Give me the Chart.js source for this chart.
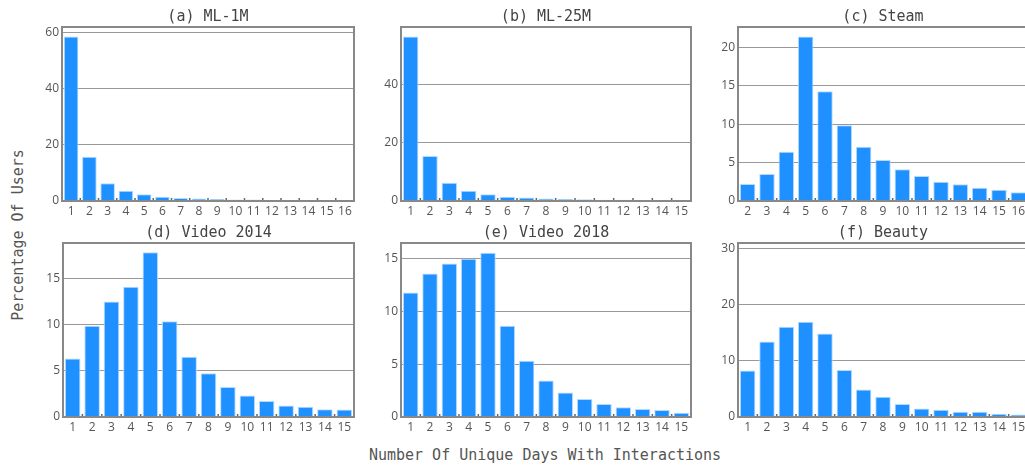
<!DOCTYPE html>
<html>
<head>
<meta charset="utf-8">
<script src="https://cdn.jsdelivr.net/npm/chart.js@4"></script>
<style>
  html, body { margin: 0; padding: 0; background: #fff; }
  body { width: 1025px; height: 466px; position: relative; overflow: hidden; }
  .panel { position: absolute; }
  #yTitle {
    position: absolute; left: 18px; top: 235px;
    transform: translate(-50%, -50%) rotate(-90deg);
    font: 15px "DejaVu Sans Mono", monospace; color: #555; white-space: nowrap;
  }
  #xTitle {
    position: absolute; left: 545px; top: 455px;
    transform: translate(-50%, -50%);
    font: 15px "DejaVu Sans Mono", monospace; color: #555; white-space: nowrap;
  }
</style>
</head>
<body>
<div id="yTitle">Percentage Of Users</div>
<div id="xTitle">Number Of Unique Days With Interactions</div>
<script>
// Category labels (days)
const days1to16 = ["1","2","3","4","5","6","7","8","9","10","11","12","13","14","15","16"];
const days1to15 = ["1","2","3","4","5","6","7","8","9","10","11","12","13","14","15"];
const days2to16 = ["2","3","4","5","6","7","8","9","10","11","12","13","14","15","16"];

// Percentage of users per number of unique days
const ml1m      = [58.7, 15.8, 6.3, 3.7, 2.4, 1.5, 1.1, 0.9, 0.7, 0.5, 0.5, 0.4, 0.4, 0.3, 0.3, 0.4];
const ml25m     = [56.4, 15.4, 6.3, 3.5, 2.3, 1.5, 1.2, 0.9, 0.7, 0.6, 0.4, 0.4, 0.3, 0.3, 0.3];
const steam     = [2.2, 3.5, 6.4, 21.4, 14.3, 9.85, 7.07, 5.34, 4.12, 3.26, 2.52, 2.17, 1.74, 1.48, 1.13];
const video2014 = [6.33, 9.87, 12.47, 14.07, 17.8, 10.35, 6.5, 4.74, 3.25, 2.32, 1.74, 1.23, 1.12, 0.83, 0.8];
const video2018 = [11.78, 13.58, 14.53, 14.98, 15.55, 8.64, 5.32, 3.46, 2.32, 1.71, 1.23, 0.92, 0.76, 0.66, 0.4];
const beauty    = [8.3, 13.5, 16.1, 17.0, 14.9, 8.4, 4.9, 3.6, 2.3, 1.5, 1.3, 0.95, 0.95, 0.6, 0.45];

// Panel titles, y axis ranges and tick values
const titles = ["(a) ML-1M", "(b) ML-25M", "(c) Steam", "(d) Video 2014", "(e) Video 2018", "(f) Beauty"];
const yMax   = [62.1, 59.7, 22.65, 18.8, 16.47, 31.07];
const yTicksA = [0, 20, 40, 60];
const yTicksB = [0, 20, 40];
const yTicksC = [0, 5, 10, 15, 20];
const yTicksD = [0, 5, 10, 15];
const yTicksE = [0, 5, 10, 15];
const yTicksF = [0, 10, 20, 30];
const yTicks = [yTicksA, yTicksB, yTicksC, yTicksD, yTicksE, yTicksF];

const panels = [
    { labels: days1to16, values: ml1m,      x: 62,  y: 27,  w: 292, h: 174 },
    { labels: days1to15, values: ml25m,     x: 401, y: 27,  w: 290, h: 174 },
    { labels: days2to16, values: steam,     x: 738, y: 27,  w: 290, h: 174 },
    { labels: days1to15, values: video2014, x: 63,  y: 243, w: 291, h: 174 },
    { labels: days1to15, values: video2018, x: 401, y: 243, w: 290, h: 174 },
    { labels: days1to15, values: beauty,    x: 738, y: 243, w: 290, h: 174 }
];

const Y_AXIS_W = 40;
const X_AXIS_H = 22;
const TOP_PAD = 24;
const RIGHT_PAD = 3;

// frame, bottom tick marks and centred title
const framePlugin = {
    id: "frame",
    afterDraw(chart, args, opts) {
        const { ctx, chartArea: a } = chart;
        const xs = chart.scales.x;
        ctx.save();
        ctx.strokeStyle = "#666";
        ctx.lineWidth = 1.5;
        const n = chart.data.labels.length;
        for (let i = 1; i < n; i++) {
            const px = (xs.getPixelForValue(i - 1) + xs.getPixelForValue(i)) / 2;
            ctx.beginPath();
            ctx.moveTo(px, a.bottom);
            ctx.lineTo(px, a.bottom - 3);
            ctx.stroke();
        }
        ctx.strokeStyle = "#888";
        ctx.lineWidth = 2;
        ctx.strokeRect(a.left, a.top, a.right - a.left, a.bottom - a.top);
        ctx.fillStyle = "#444";
        ctx.font = '15px "DejaVu Sans Mono", monospace';
        ctx.textAlign = "center";
        ctx.textBaseline = "middle";
        ctx.fillText(opts.text, (a.left + a.right) / 2, a.top - 10);
        ctx.restore();
    }
};

panels.forEach((p, idx) => {
    const canvas = document.createElement("canvas");
    const cw = p.w + Y_AXIS_W + RIGHT_PAD;
    const ch = p.h + TOP_PAD + X_AXIS_H;
    canvas.width = cw;
    canvas.height = ch;
    canvas.className = "panel";
    canvas.style.left = (p.x - Y_AXIS_W) + "px";
    canvas.style.top = (p.y - TOP_PAD) + "px";
    canvas.style.width = cw + "px";
    canvas.style.height = ch + "px";
    document.body.appendChild(canvas);

    new Chart(canvas.getContext("2d"), {
        type: "bar",
        data: {
            labels: p.labels,
            datasets: [{
                data: p.values,
                backgroundColor: "#1E90FF",
                borderColor: "#b4daff",
                borderWidth: 1,
                barPercentage: 0.8,
                categoryPercentage: 1.0
            }]
        },
        options: {
            responsive: false,
            animation: false,
            devicePixelRatio: 1,
            layout: { padding: { top: TOP_PAD, right: RIGHT_PAD, left: 0, bottom: 0 } },
            plugins: {
                legend: { display: false },
                tooltip: { enabled: false },
                frame: { text: titles[idx] }
            },
            scales: {
                x: {
                    offset: true,
                    grid: { display: false, drawTicks: false },
                    border: { display: false },
                    ticks: {
                        color: "#555",
                        font: { family: "Open Sans", size: 12 },
                        maxRotation: 0,
                        autoSkip: false,
                        padding: 3
                    },
                    afterFit: s => { s.height = X_AXIS_H; }
                },
                y: {
                    min: 0,
                    max: yMax[idx],
                    border: { display: false },
                    grid: { color: "#999", lineWidth: 1, drawTicks: false },
                    ticks: {
                        autoSkip: false,
                        color: "#555",
                        font: { family: "Open Sans", size: 12 },
                        padding: 3
                    },
                    afterBuildTicks: s => {
                        s.ticks = yTicks[idx].map(v => ({ value: v }));
                    },
                    afterFit: s => { s.width = Y_AXIS_W; }
                }
            }
        },
        plugins: [framePlugin]
    });
});
</script>
</body>
</html>
